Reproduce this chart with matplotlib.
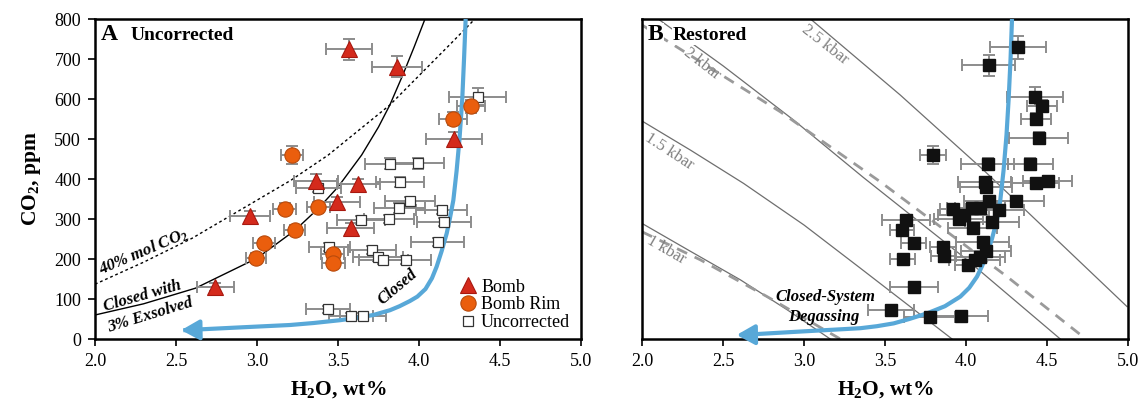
import numpy as np
import matplotlib
matplotlib.use("Agg")
import matplotlib.pyplot as plt
from matplotlib.lines import Line2D

plt.rcParams['font.family'] = ['Liberation Serif', 'DejaVu Serif']
plt.rcParams['mathtext.fontset'] = 'custom'
plt.rcParams['mathtext.rm'] = 'Liberation Serif:bold'
plt.rcParams['mathtext.bf'] = 'Liberation Serif:bold'
plt.rcParams['mathtext.default'] = 'rm'

# ---- panel A data: uncorrected melt inclusions ----
bomb_h2o = [3.566, 3.862, 4.216, 3.364, 3.625, 3.496, 2.959, 3.578, 2.743]
bomb_co2 = [724, 681, 499, 395, 388, 342, 308, 277, 131]
bomb_xerr = [0.142, 0.154, 0.17, 0.136, 0.134, 0.142, 0.123, 0.144, 0.113]
bomb_yerr = [27, 26, 18, 17, 12, 14, 12, 12, 10]

rim_h2o = [4.319, 4.208, 3.216, 3.171, 3.379, 3.233, 3.043, 2.996, 3.467, 3.471]
rim_co2 = [582, 551, 460, 326, 329, 272, 239, 202, 213, 191]
rim_xerr = [0.086, 0.086, 0.07, 0.07, 0.072, 0.066, 0.066, 0.062, 0.072, 0.07]
rim_yerr = [16, 16, 22, 14, 14, 12, 12, 12, 12, 12]

unc_h2o = [4.362, 3.821, 3.996, 3.883, 3.379, 3.944, 3.878, 4.140, 3.640, 3.815,
           4.156, 4.115, 3.446, 3.710, 3.747, 3.780, 3.920, 3.438, 3.580, 3.652]
unc_co2 = [606, 438, 439, 393, 378, 344, 327, 322, 298, 300,
           293, 243, 229, 222, 204, 198, 198, 74, 58, 58]
unc_xerr = [0.175, 0.154, 0.156, 0.15, 0.14, 0.156, 0.156, 0.156, 0.148, 0.152,
            0.167, 0.165, 0.128, 0.146, 0.154, 0.15, 0.156, 0.136, 0.138, 0.142]
unc_yerr = [21, 14, 14, 12, 10, 12, 12, 10, 10, 10, 10, 10, 10, 10, 10, 10, 10, 8, 8, 8]

# model curves, panel A
exs_h2o = [2.0, 2.3, 2.62, 3.0, 3.235, 3.38, 3.5, 3.646, 3.75, 3.82, 3.9, 3.97, 4.037]
exs_co2 = [60, 88, 127, 202, 272, 327, 380, 460, 530, 585, 660, 730, 800]
mol40_h2o = [2.0, 2.3, 2.6, 3.21, 3.44, 3.82, 4.2, 4.345]
mol40_co2 = [137, 192, 252, 397, 460, 585, 740, 800]
closed_a_h2o = [4.288, 4.278, 4.267, 4.25, 4.232, 4.212, 4.19, 4.171, 4.14, 4.109,
                4.08, 4.04, 3.99, 3.944, 3.88, 3.821, 3.718, 3.6, 3.512, 3.35,
                3.204, 2.895, 2.545]
closed_a_co2 = [800, 700, 600, 500, 420, 347, 300, 264, 220, 181,
                152, 125, 106, 95, 82, 72, 60, 52, 47, 40,
                35, 29, 22]

# ---- panel B data: restored inclusions ----
rest_h2o = [4.319, 4.140, 4.423, 4.469, 4.434, 4.448, 3.794, 4.134, 4.397, 4.115,
            4.124, 4.430, 4.504, 4.140, 4.311, 3.917, 4.037, 4.088, 4.201, 3.985,
            3.954, 4.160, 4.041, 3.627, 3.605, 3.677, 3.856, 3.862, 3.609, 4.102,
            4.124, 4.088, 4.053, 4.010, 3.677, 3.535, 3.775, 3.971]
rest_co2 = [729, 684, 606, 582, 550, 502, 460, 437, 437, 393,
            381, 389, 396, 345, 345, 325, 327, 327, 322, 310,
            299, 293, 277, 297, 272, 239, 229, 207, 201, 243,
            221, 204, 198, 185, 129, 72, 56, 57]
rest_xerr = [0.173, 0.165, 0.173, 0.093, 0.093, 0.181, 0.08, 0.163, 0.14, 0.163,
             0.16, 0.144, 0.152, 0.154, 0.173, 0.08, 0.155, 0.155, 0.16, 0.16,
             0.152, 0.165, 0.15, 0.148, 0.074, 0.076, 0.08, 0.075, 0.076, 0.165,
             0.155, 0.155, 0.155, 0.08, 0.148, 0.142, 0.16, 0.163]
rest_yerr = [28, 26, 23, 15, 15, 15, 22, 15, 15, 12,
             12, 12, 12, 12, 12, 10, 10, 10, 10, 10,
             10, 10, 10, 10, 10, 10, 10, 10, 10, 10,
             10, 10, 10, 10, 10, 8, 8, 8]

closed_b_h2o = [4.284, 4.275, 4.263, 4.25, 4.232, 4.212, 4.191, 4.16, 4.130, 4.10,
                4.068, 4.02, 3.965, 3.87, 3.759, 3.65, 3.553, 3.45, 3.348, 2.95, 2.607]
closed_b_co2 = [800, 700, 598, 510, 422, 348, 298, 250, 214, 183,
                156, 128, 106, 82, 64, 50, 39, 32, 27, 18, 10]

# isobars (solid = one model, dashed = the other)
iso25_h2o = [3.049, 3.594, 4.109, 4.994]
iso25_co2 = [797, 610, 422, 81]
iso20_h2o = [2.1, 2.5, 2.934, 3.366, 4.0, 4.582]
iso20_co2 = [800, 683, 548, 404, 200, 0]
iso15_h2o = [2.0, 2.3, 2.627, 3.0, 3.348, 3.914]
iso15_co2 = [545, 472, 389, 285, 177, 0]
iso10_h2o = [2.0, 2.3, 2.607, 2.9, 3.162]
iso10_co2 = [289, 219, 148, 72, 0]
iso20d_h2o = [2.0, 2.164, 2.854, 3.471, 4.253, 4.74]
iso20d_co2 = [785, 743, 568, 393, 156, 0]
iso10d_h2o = [2.0, 2.36, 2.772, 3.224]
iso10d_co2 = [268, 198, 106, 0]

x_ticks = [2.0, 2.5, 3.0, 3.5, 4.0, 4.5, 5.0]
x_tick_labels = ['2.0', '2.5', '3.0', '3.5', '4.0', '4.5', '5.0']
y_ticks = [0, 100, 200, 300, 400, 500, 600, 700, 800]
y_tick_labels = ['0', '100', '200', '300', '400', '500', '600', '700', '800']

BLUE = '#58a8d8'
ERR = '#8c8c8c'
W, H = 1146, 408

fig = plt.figure(figsize=(W / 100, H / 100), dpi=100)
ax_a = fig.add_axes([95 / W, 1 - 339 / H, 486 / W, 320 / H])
ax_b = fig.add_axes([642 / W, 1 - 339 / H, 486 / W, 320 / H])

for ax in (ax_a, ax_b):
    ax.set_xlim(2.0, 5.0)
    ax.set_ylim(0, 800)
    ax.set_xticks(x_ticks)
    ax.set_xticklabels(x_tick_labels)
    ax.set_yticks(y_ticks)
    ax.set_yticklabels(y_tick_labels)
    ax.tick_params(direction='out', length=5, width=1.2, labelsize=13, pad=5)
    for sp in ax.spines.values():
        sp.set_linewidth(1.8)
    ax.set_xlabel('H$_2$O, wt%', fontsize=15.5, fontweight='bold', labelpad=7)
ax_b.tick_params(axis='y', left=False, labelleft=False)
ax_a.set_ylabel('CO$_2$, ppm', fontsize=15.5, fontweight='bold', labelpad=8)

eb = dict(fmt='none', ecolor=ERR, elinewidth=1.4, capsize=4, capthick=1.4, zorder=3)

# ---- panel A ----
ax_a.plot(exs_h2o, exs_co2, color='black', lw=1.0, zorder=2)
ax_a.plot(mol40_h2o, mol40_co2, color='black', lw=1.0, ls=(0, (2, 2)), zorder=2)
ax_a.plot(closed_a_h2o, closed_a_co2, color=BLUE, lw=3, zorder=5,
          solid_capstyle='butt', solid_joinstyle='round')
ax_a.annotate('', xy=(closed_a_h2o[-1] - 0.03, closed_a_co2[-1]),
              xytext=(closed_a_h2o[-1] + 0.05, closed_a_co2[-1] + 0.5),
              arrowprops=dict(arrowstyle='-|>,head_length=0.9,head_width=0.5',
                              color=BLUE, lw=3, mutation_scale=12), zorder=5)

ax_a.errorbar(unc_h2o, unc_co2, xerr=unc_xerr, yerr=unc_yerr, **eb)
ax_a.errorbar(rim_h2o, rim_co2, xerr=rim_xerr, yerr=rim_yerr, **eb)
ax_a.errorbar(bomb_h2o, bomb_co2, xerr=bomb_xerr, yerr=bomb_yerr, **eb)
ax_a.plot(unc_h2o, unc_co2, 's', ms=7, mfc='white', mec='#333333', mew=0.9, ls='none', zorder=6)
ax_a.plot(rim_h2o, rim_co2, 'o', ms=11, mfc='#ea5e0d', mec='#b84a0c', mew=0.8, ls='none', zorder=7)
ax_a.plot(bomb_h2o, bomb_co2, '^', ms=12, mfc='#d42a1c', mec='#a8180f', mew=0.8, ls='none', zorder=7)

ax_a.text(0.012, 0.985, 'A', transform=ax_a.transAxes, fontsize=17, fontweight='bold',
          va='top', ha='left')
ax_a.text(0.074, 0.975, 'Uncorrected', transform=ax_a.transAxes, fontsize=14,
          fontweight='bold', va='top', ha='left')
lab = dict(fontsize=12, fontweight='bold', style='italic', ha='center', va='center')
ax_a.text(2.30, 218, '40% mol CO$_2$', rotation=23, **lab)
ax_a.text(2.29, 106, 'Closed with', rotation=16, **lab)
ax_a.text(2.34, 60, '3% Exsolved', rotation=17, **lab)
ax_a.text(3.87, 131, 'Closed', rotation=40, **lab)

handles = [
    Line2D([], [], marker='^', ls='none', ms=12, mfc='#d42a1c', mec='#a8180f', mew=0.8),
    Line2D([], [], marker='o', ls='none', ms=11, mfc='#ea5e0d', mec='#b84a0c', mew=0.8),
    Line2D([], [], marker='s', ls='none', ms=7, mfc='white', mec='#333333', mew=0.9),
]
ax_a.legend(handles, ['Bomb', 'Bomb Rim', 'Uncorrected'], loc='lower right',
            bbox_to_anchor=(1.0, -0.01), frameon=False, fontsize=13,
            handlelength=0.8, handletextpad=0.3, labelspacing=0.05, borderaxespad=0.2)

# ---- panel B ----
iso_kw = dict(color='#6e6e6e', lw=0.9, zorder=2)
dash_kw = dict(color='#9a9a9a', lw=2.0, ls=(0, (4, 3)), zorder=2)
ax_b.plot(iso25_h2o, iso25_co2, **iso_kw)
ax_b.plot(iso20_h2o, iso20_co2, **iso_kw)
ax_b.plot(iso15_h2o, iso15_co2, **iso_kw)
ax_b.plot(iso10_h2o, iso10_co2, **iso_kw)
ax_b.plot(iso20d_h2o, iso20d_co2, **dash_kw)
ax_b.plot(iso10d_h2o, iso10d_co2, **dash_kw)

iso_lab = dict(color='#808080', fontsize=12, ha='center', va='center')
ax_b.text(3.13, 735, '2.5 kbar', rotation=-38, **iso_lab)
ax_b.text(2.37, 688, '2 kbar', rotation=-38, **iso_lab)
ax_b.text(2.17, 468, '1.5 kbar', rotation=-33, **iso_lab)
ax_b.text(2.15, 222, '1 kbar', rotation=-30, **iso_lab)

ax_b.plot(closed_b_h2o, closed_b_co2, color=BLUE, lw=3, zorder=5,
          solid_capstyle='butt', solid_joinstyle='round')
ax_b.annotate('', xy=(closed_b_h2o[-1] - 0.04, closed_b_co2[-1]),
              xytext=(closed_b_h2o[-1] + 0.05, closed_b_co2[-1] + 0.5),
              arrowprops=dict(arrowstyle='-|>,head_length=0.9,head_width=0.5',
                              color=BLUE, lw=3, mutation_scale=12), zorder=5)

ax_b.errorbar(rest_h2o, rest_co2, xerr=rest_xerr, yerr=rest_yerr, **eb)
ax_b.plot(rest_h2o, rest_co2, 's', ms=8, mfc='#111111', mec='#111111', ls='none', zorder=6)

ax_b.text(0.012, 0.985, 'B', transform=ax_b.transAxes, fontsize=17, fontweight='bold',
          va='top', ha='left', bbox=dict(fc='white', ec='none', pad=0.5), zorder=8)
ax_b.text(0.064, 0.975, 'Restored', transform=ax_b.transAxes, fontsize=14,
          fontweight='bold', va='top', ha='left',
          bbox=dict(fc='white', ec='none', pad=0.5), zorder=8)
ax_b.text(3.13, 106, 'Closed-System', **lab)
ax_b.text(3.12, 54, 'Degassing', **lab)

fig.savefig('out.png', dpi=100)
